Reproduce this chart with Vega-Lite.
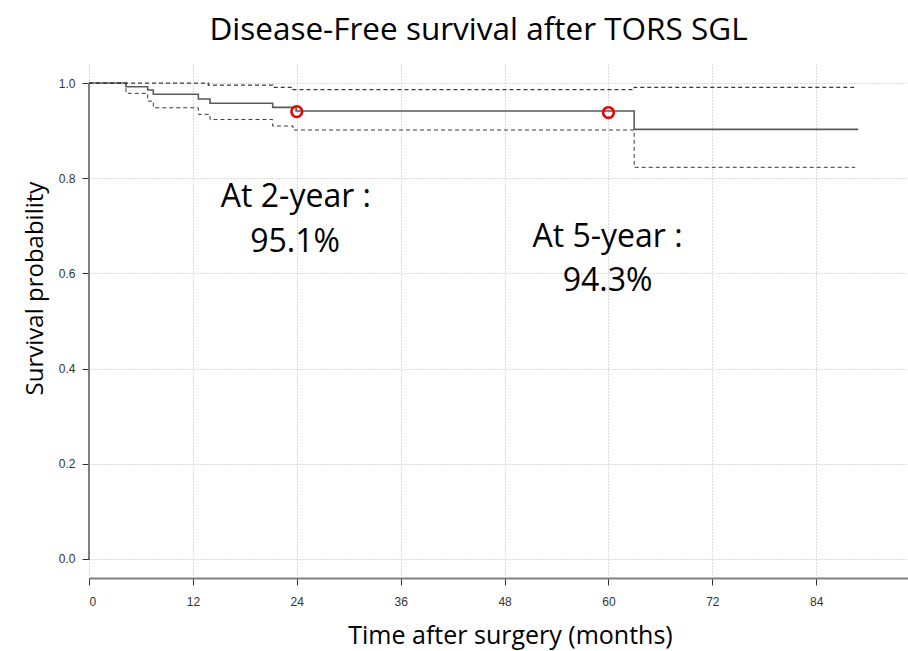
{
  "$schema": "https://vega.github.io/schema/vega-lite/v6.json",
  "width": 819,
  "height": 514,
  "autosize": {"type": "none"},
  "padding": {"left": 89, "top": 64, "right": 0, "bottom": 73},
  "background": "white",
  "title": {
    "text": "Disease-Free survival after TORS SGL",
    "font": "Open Sans",
    "fontSize": 31.5,
    "fontWeight": "normal",
    "color": "#000000",
    "anchor": "middle",
    "baseline": "alphabetic",
    "offset": 26,
    "dx": -20,
    "dy": 33
  },
  "config": {
    "view": {"stroke": null},
    "axis": {
      "gridColor": "#b8b8b8",
      "gridDash": [1, 2],
      "gridWidth": 1,
      "tickColor": "#333333",
      "tickSize": 7,
      "labelFont": "Liberation Sans",
      "labelFontSize": 12,
      "labelColor": "#333333",
      "titleFont": "Open Sans",
      "titleFontWeight": "normal",
      "titleColor": "#000000"
    }
  },
  "datasets": {
    "curves": [
      {"series": "estimate", "month": 0, "surv": 1.0},
      {"series": "estimate", "month": 4.27, "surv": 0.9922},
      {"series": "estimate", "month": 6.78, "surv": 0.9853},
      {"series": "estimate", "month": 7.43, "surv": 0.9763},
      {"series": "estimate", "month": 12.63, "surv": 0.9664},
      {"series": "estimate", "month": 13.98, "surv": 0.9574},
      {"series": "estimate", "month": 21.22, "surv": 0.9489},
      {"series": "estimate", "month": 23.92, "surv": 0.9412},
      {"series": "estimate", "month": 62.97, "surv": 0.9027},
      {"series": "estimate", "month": 88.85, "surv": 0.9027},
      {"series": "upper", "month": 0, "surv": 1.0},
      {"series": "upper", "month": 13.78, "surv": 0.9958},
      {"series": "upper", "month": 21.22, "surv": 0.991},
      {"series": "upper", "month": 23.57, "surv": 0.9863},
      {"series": "upper", "month": 62.97, "surv": 0.991},
      {"series": "upper", "month": 88.7, "surv": 0.991},
      {"series": "lower", "month": 0, "surv": 1.0},
      {"series": "lower", "month": 4.27, "surv": 0.9784},
      {"series": "lower", "month": 6.78, "surv": 0.962},
      {"series": "lower", "month": 7.43, "surv": 0.948},
      {"series": "lower", "month": 12.63, "surv": 0.9342},
      {"series": "lower", "month": 13.98, "surv": 0.9233},
      {"series": "lower", "month": 21.22, "surv": 0.9097},
      {"series": "lower", "month": 23.57, "surv": 0.9013},
      {"series": "lower", "month": 62.97, "surv": 0.8229},
      {"series": "lower", "month": 88.5, "surv": 0.8229}
    ],
    "marks": [
      {"month": 24, "surv": 0.940},
      {"month": 60, "surv": 0.938}
    ],
    "notes": [
      {"label": "At 2-year :", "month": 23.9, "surv": 0.740},
      {"label": "95.1%", "month": 23.8, "surv": 0.6457},
      {"label": "At 5-year :", "month": 59.9, "surv": 0.6563},
      {"label": "94.3%", "month": 59.9, "surv": 0.5638}
    ],
    "yline": [
      {"month": 0, "surv": 0, "surv2": 1}
    ]
  },
  "layer": [
    {
      "data": {"name": "yline"},
      "mark": {"type": "rule", "color": "#808080", "strokeWidth": 2},
      "encoding": {
        "x": {
          "field": "month", "type": "quantitative",
          "scale": {"domain": [0, 94.6], "nice": false, "zero": false},
          "axis": {
            "values": [0, 12, 24, 36, 48, 60, 72, 84],
            "grid": true,
            "domainColor": "#808080",
            "domainWidth": 2,
            "labelPadding": 11,
            "title": "Time after surgery (months)",
            "titleFontSize": 25,
            "titleX": 421,
            "titleY": 65,
            "titleBaseline": "alphabetic",
            "titleAlign": "center"
          }
        },
        "y": {
          "field": "surv", "type": "quantitative",
          "scale": {"domain": [-0.04, 1.04], "nice": false, "zero": false},
          "axis": {
            "values": [0, 0.2, 0.4, 0.6, 0.8, 1.0],
            "format": ".1f",
            "grid": true,
            "domain": false,
            "labelPadding": 7,
            "title": "Survival probability",
            "titleFontSize": 24,
            "titleAngle": -90,
            "titleX": -47,
            "titleY": 224,
            "titleBaseline": "alphabetic",
            "titleAlign": "center"
          }
        },
        "y2": {"field": "surv2"}
      }
    },
    {
      "data": {"name": "curves"},
      "mark": {"type": "line", "interpolate": "step-after"},
      "encoding": {
        "x": {"field": "month", "type": "quantitative"},
        "y": {"field": "surv", "type": "quantitative"},
        "detail": {"field": "series"},
        "color": {
          "field": "series", "type": "nominal",
          "scale": {"domain": ["estimate", "upper", "lower"], "range": ["#5a5a5a", "#3a3a3a", "#3a3a3a"]},
          "legend": null
        },
        "strokeDash": {
          "field": "series", "type": "nominal",
          "scale": {"domain": ["estimate", "upper", "lower"], "range": [[1, 0], [4, 3], [4, 3]]},
          "legend": null
        },
        "strokeWidth": {
          "field": "series", "type": "nominal",
          "scale": {"domain": ["estimate", "upper", "lower"], "range": [1.6, 1, 1]},
          "legend": null
        }
      }
    },
    {
      "data": {"name": "marks"},
      "mark": {"type": "point", "shape": "circle", "filled": false, "stroke": "#ee0000", "strokeWidth": 2.6, "size": 115, "opacity": 1},
      "encoding": {
        "x": {"field": "month", "type": "quantitative"},
        "y": {"field": "surv", "type": "quantitative"}
      }
    },
    {
      "data": {"name": "notes"},
      "mark": {"type": "text", "font": "Open Sans", "fontSize": 32, "align": "center", "baseline": "alphabetic", "color": "#000000"},
      "encoding": {
        "x": {"field": "month", "type": "quantitative"},
        "y": {"field": "surv", "type": "quantitative"},
        "text": {"field": "label"}
      }
    }
  ]
}
